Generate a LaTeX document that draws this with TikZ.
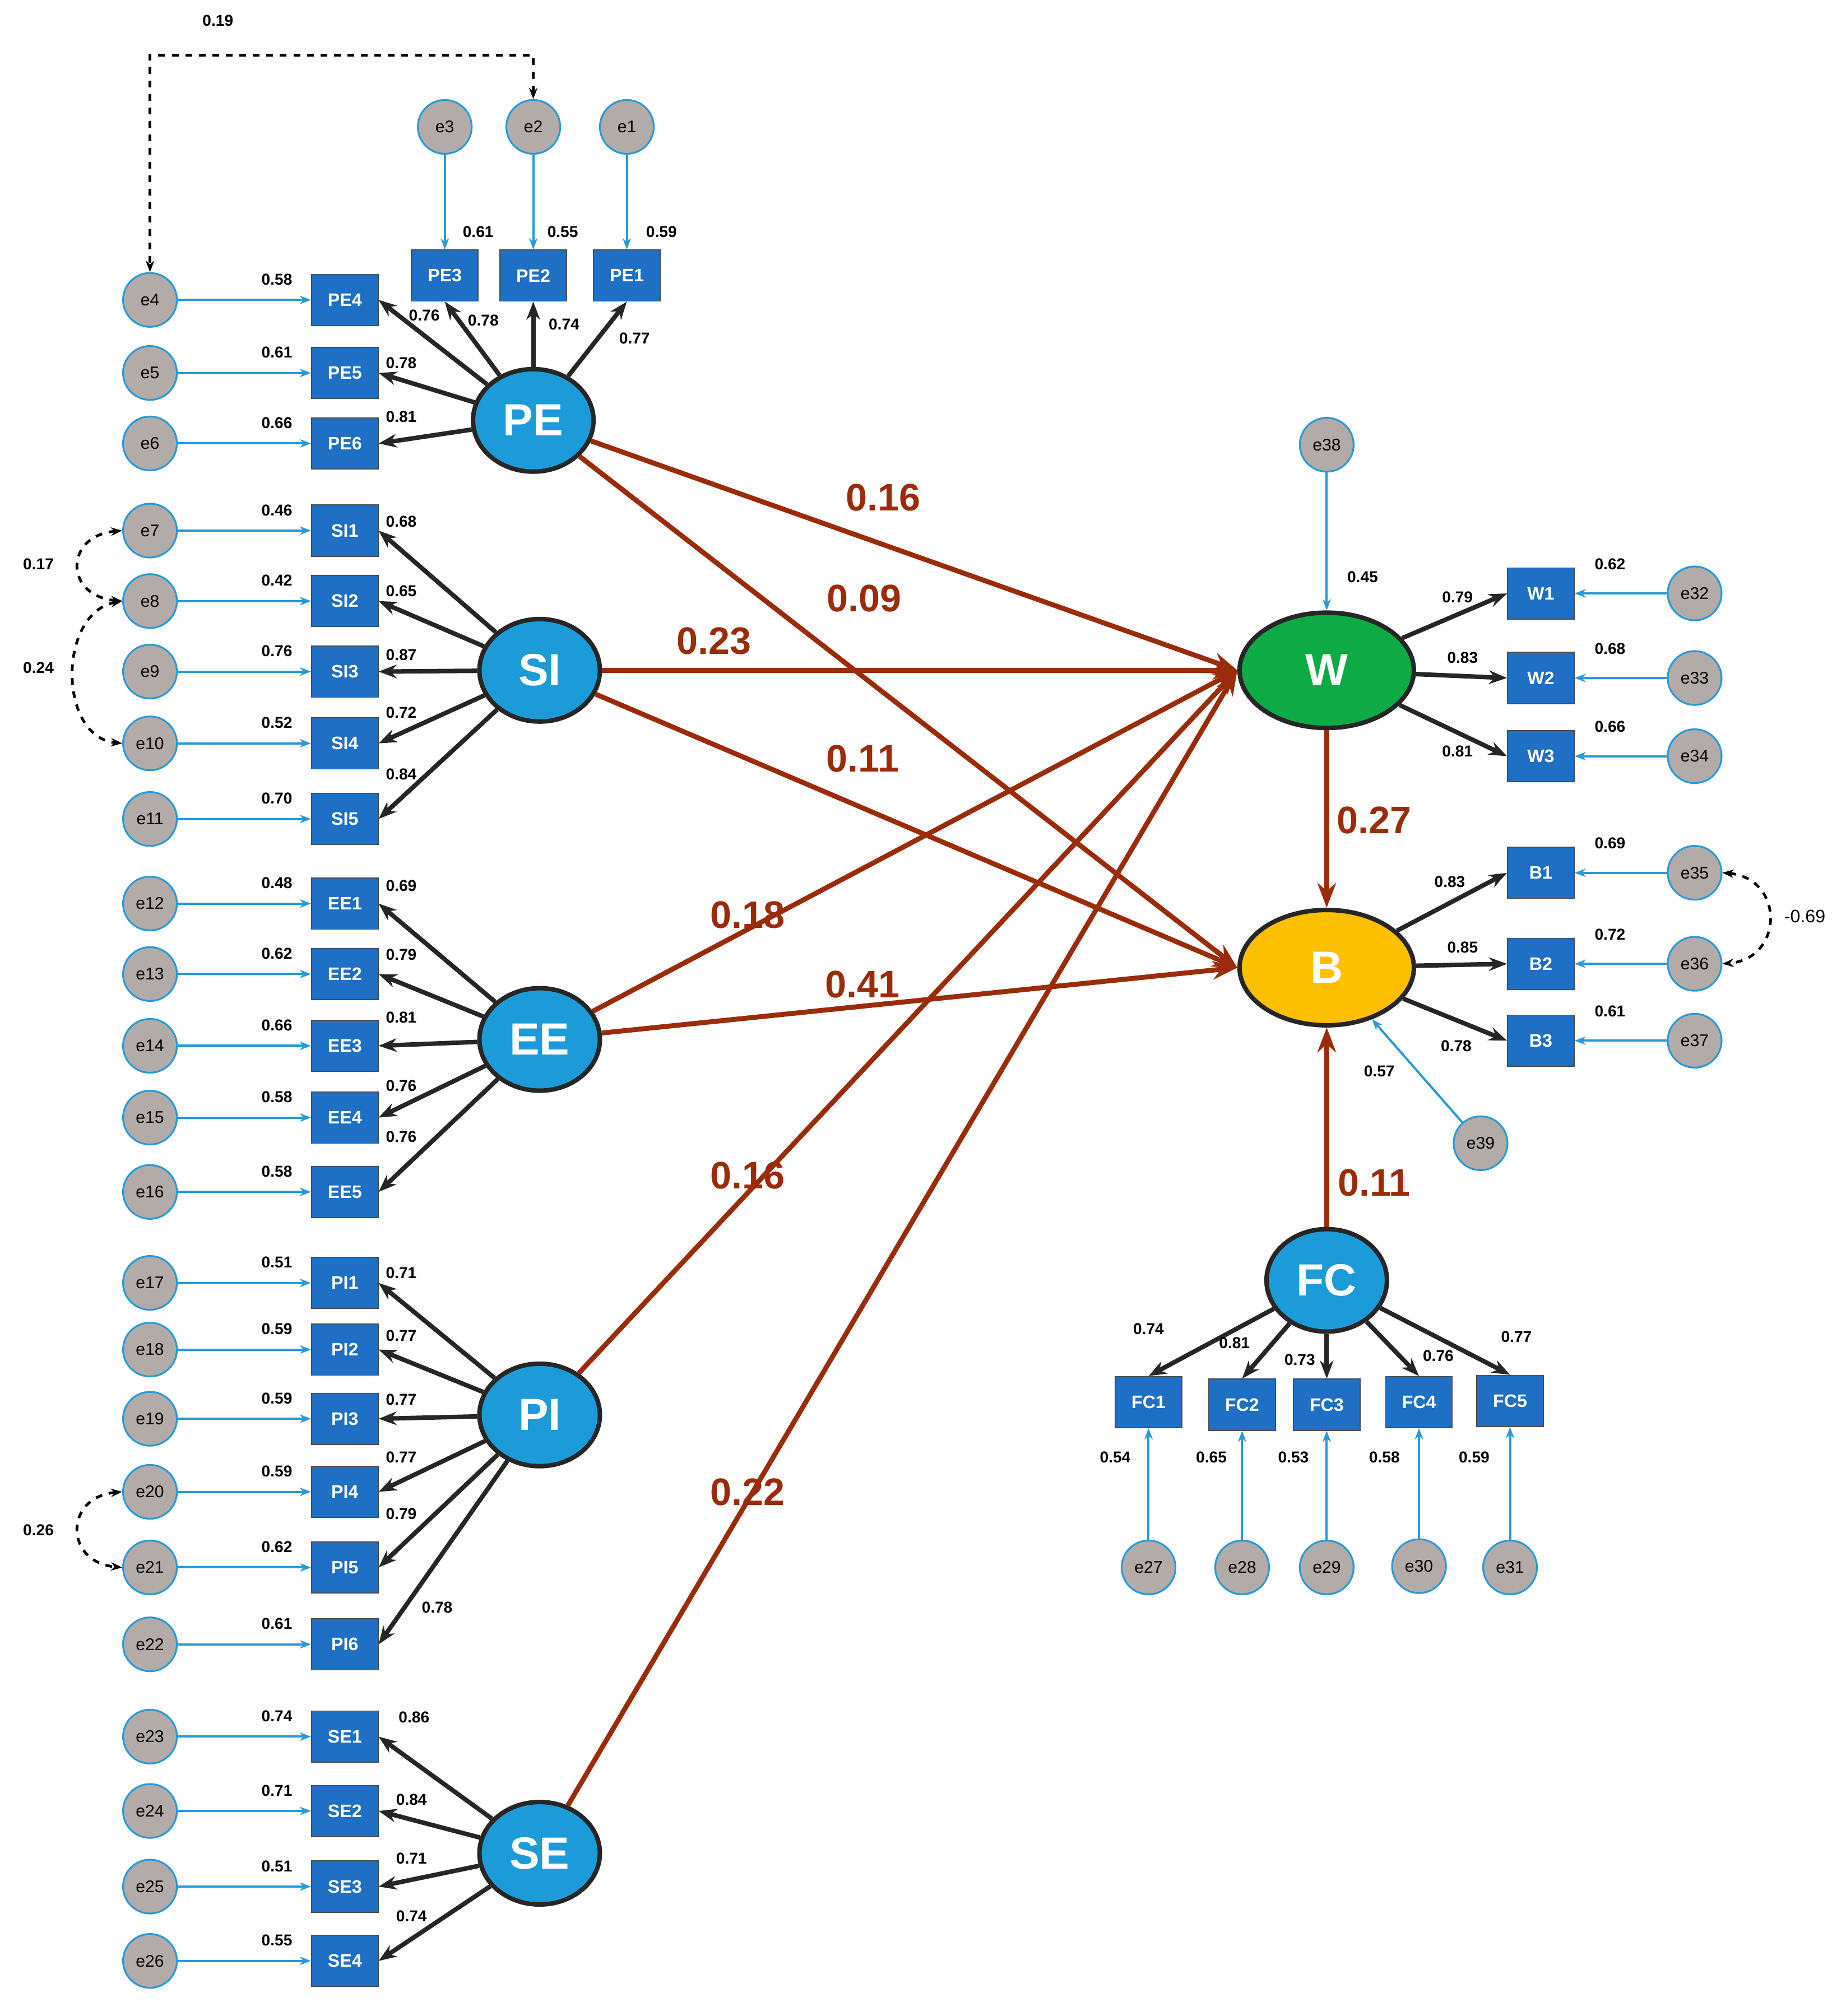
\documentclass[tikz,border=0pt]{standalone}
\usepackage{fontspec}
\setmainfont{Liberation Sans}
\usetikzlibrary{arrows.meta,shapes.geometric}
\definecolor{boxblue}{HTML}{1F6FC5}
\definecolor{latblue}{HTML}{1C9BD8}
\definecolor{errgray}{HTML}{B3ABA8}
\definecolor{errline}{HTML}{2A9AD6}
\definecolor{pathred}{HTML}{9A2C0C}
\definecolor{wgreen}{HTML}{0DAA45}
\definecolor{byellow}{HTML}{FDC000}
\begin{document}
\begin{tikzpicture}[x=0.02cm,y=-0.02cm]
\tikzset{
  obs/.style={draw=black!70, fill=boxblue, text=white, font=\bfseries\fontsize{8}{8}\selectfont, minimum width=1.04cm, minimum height=0.8cm, inner sep=0pt},
  err/.style={circle, draw=errline, thick, fill=errgray, font=\fontsize{7.5}{8}\selectfont, minimum size=0.84cm, inner sep=0pt},
  lat/.style={ellipse, draw=black!85, line width=2pt, fill=latblue, text=white, font=\bfseries\fontsize{20}{20}\selectfont, minimum width=1.88cm, minimum height=1.6cm},
  big/.style={ellipse, draw=black!85, line width=2pt, text=white, font=\bfseries\fontsize{20}{20}\selectfont, minimum width=2.72cm, minimum height=1.8cm},
  load/.style={-{Stealth[length=8pt]}, line width=2pt, black!85},
  eline/.style={-{Stealth[length=5pt]}, errline, line width=1pt},
  cov/.style={{Stealth[length=5pt]}-{Stealth[length=5pt]}, dashed, line width=1.2pt},
  sp/.style={-{Stealth[length=11pt]}, pathred, line width=2.2pt},
  val/.style={font=\bfseries\fontsize{7}{7}\selectfont},
  coef/.style={font=\bfseries\fontsize{17}{17}\selectfont, text=pathred}
}
\useasboundingbox (0,0) rectangle (1440,1573);

% latent variables
\node[lat] (PE) at (416,328) {PE};
\node[lat] (SI) at (421,523) {SI};
\node[lat] (EE) at (421,811) {EE};
\node[lat] (PI) at (421,1104) {PI};
\node[lat] (SE) at (421,1446) {SE};
\node[lat] (FC) at (1035,999) {FC};
\node[big, fill=wgreen] (W) at (1035,523) {W};
\node[big, fill=byellow] (B) at (1035,755) {B};

% left indicators
\foreach \e/\b/\y/\ev/\lv/\lx/\ly/\l in {
  e4/PE4/234/0.58/0.76/331/246/PE, e5/PE5/291/0.61/0.78/313/283/PE, e6/PE6/346/0.66/0.81/313/325/PE,
  e7/SI1/414/0.46/0.68/313/407/SI, e8/SI2/469/0.42/0.65/313/461/SI, e9/SI3/524/0.76/0.87/313/511/SI,
  e10/SI4/580/0.52/0.72/313/556/SI, e11/SI5/639/0.70/0.84/313/604/SI,
  e12/EE1/705/0.48/0.69/313/691/EE, e13/EE2/760/0.62/0.79/313/745/EE, e14/EE3/816/0.66/0.81/313/794/EE,
  e15/EE4/872/0.58/0.76/313/847/EE, e16/EE5/930/0.58/0.76/313/887/EE,
  e17/PI1/1001/0.51/0.71/313/993/PI, e18/PI2/1053/0.59/0.77/313/1042/PI, e19/PI3/1107/0.59/0.77/313/1092/PI,
  e20/PI4/1164/0.59/0.77/313/1137/PI, e21/PI5/1223/0.62/0.79/313/1181/PI, e22/PI6/1283/0.61/0.78/341/1254/PI,
  e23/SE1/1355/0.74/0.86/323/1340/SE, e24/SE2/1413/0.71/0.84/321/1404/SE, e25/SE3/1472/0.51/0.71/321/1450/SE,
  e26/SE4/1530/0.55/0.74/321/1495/SE}{
  \node[obs] (\b) at (269,\y) {\b};
  \node[err] (\e) at (117,\y) {\e};
  \draw[eline] (\e) -- (\b);
  \draw[load] (\l) -- (\b.east);
  \node[val] (v\e) at (216,\y-16) {\ev};
  \node[val] (l\b) at (\lx,\ly) {\lv};
}

% PE top indicators
\foreach \e/\b/\x/\ev/\evx/\lv/\lx/\ly in {
  e3/PE3/347/0.61/373/0.78/377/250, e2/PE2/416/0.55/439/0.74/440/253, e1/PE1/489/0.59/516/0.77/495/264}{
  \node[obs] (\b) at (\x,215) {\b};
  \node[err] (\e) at (\x,99) {\e};
  \draw[eline] (\e) -- (\b);
  \draw[load] (PE) -- (\b.south);
  \node[val] (v\e) at (\evx,181) {\ev};
  \node[val] (l\b) at (\lx,\ly) {\lv};
}

% W and B indicators
\foreach \e/\b/\y/\ev/\lv/\lx/\ly/\l in {
  e32/W1/463/0.62/0.79/1137/466/W, e33/W2/529/0.68/0.83/1141/513/W, e34/W3/590/0.66/0.81/1137/586/W,
  e35/B1/681/0.69/0.83/1131/688/B, e36/B2/752/0.72/0.85/1141/739/B, e37/B3/812/0.61/0.78/1136/816/B}{
  \node[obs] (\b) at (1202,\y) {\b};
  \node[err] (\e) at (1322,\y) {\e};
  \draw[eline] (\e) -- (\b);
  \draw[load] (\l) -- (\b.west);
  \node[val] (v\e) at (1256,\y-23) {\ev};
  \node[val] (l\b) at (\lx,\ly) {\lv};
}

% FC indicators
\foreach \e/\b/\x/\y/\ey/\ev/\evx/\lv/\lx/\ly in {
  e27/FC1/896/1094/1223/0.54/870/0.74/896/1037, e28/FC2/969/1096/1223/0.65/945/0.81/963/1048,
  e29/FC3/1035/1096/1223/0.53/1009/0.73/1014/1061, e30/FC4/1107/1094/1222/0.58/1080/0.76/1122/1058,
  e31/FC5/1178/1093/1223/0.59/1150/0.77/1183/1043}{
  \node[obs] (\b) at (\x,\y) {\b};
  \node[err] (\e) at (\x,\ey) {\e};
  \draw[eline] (\e) -- (\b);
  \draw[load] (FC) -- (\b.north);
  \node[val] (v\e) at (\evx,1137) {\ev};
  \node[val] (l\b) at (\lx,\ly) {\lv};
}

% disturbances
\node[err] (e38) at (1035,347) {e38};
\node[err] (e39) at (1155,892) {e39};
\draw[eline] (e38) -- (W);
\draw[eline] (e39) -- (B);
\node[val] (ve38) at (1063,450) {0.45};
\node[val] (ve39) at (1076,836) {0.57};

% structural paths
\draw[sp] (PE) -- (W.west);
\draw[sp] (PE) -- (B.west);
\draw[sp] (SI) -- (W.west);
\draw[sp] (SI) -- (B.west);
\draw[sp] (EE) -- (W.west);
\draw[sp] (EE) -- (B.west);
\draw[sp] (PI) -- (W.west);
\draw[sp] (SE) -- (W.west);
\draw[sp] (W) -- (B);
\draw[sp] (FC) -- (B);
\node[coef] (c1) at (689,388) {0.16};
\node[coef] (c2) at (674,467) {0.09};
\node[coef] (c3) at (557,500) {0.23};
\node[coef] (c4) at (673,592) {0.11};
\node[coef] (c5) at (583,714) {0.18};
\node[coef] (c6) at (673,768) {0.41};
\node[coef] (c7) at (583,917) {0.16};
\node[coef] (c8) at (583,1164) {0.22};
\node[coef] (c9) at (1072,640) {0.27};
\node[coef] (c10) at (1072,923) {0.11};

% covariances
\coordinate (k1) at (416,43);
\coordinate (k2) at (117,43);
\draw[cov] (e2) -- (k1) -- (k2) -- (e4);
\node[val] (r1) at (170,16) {0.19};
\draw[cov] (e7.west) .. controls (50,418) and (50,465) .. (e8.west);
\node[val] (r2) at (30,440) {0.17};
\draw[cov] (e8.west) .. controls (45,478) and (45,575) .. (e10.west);
\node[val] (r3) at (30,521) {0.24};
\draw[cov] (e20.west) .. controls (50,1168) and (50,1219) .. (e21.west);
\node[val] (r4) at (30,1194) {0.26};
\draw[cov] (e35.east) .. controls (1392,685) and (1392,748) .. (e36.east);
\node[val, font=\fontsize{8}{8}\selectfont] (r5) at (1408,715) {-0.69};
\end{tikzpicture}
\end{document}
